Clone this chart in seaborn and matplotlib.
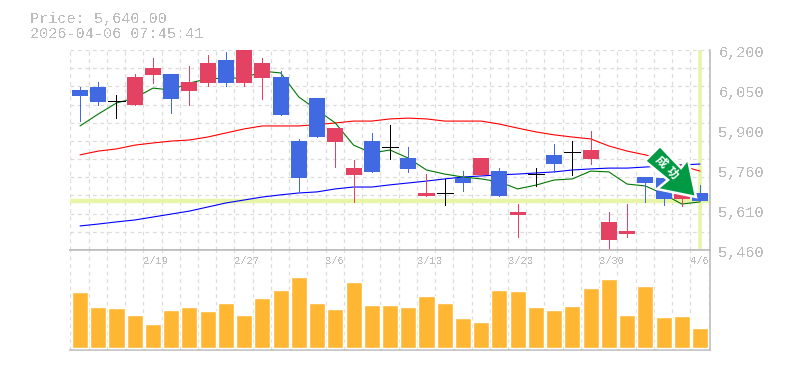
import numpy as np
import pandas as pd
import seaborn as sns
import matplotlib.pyplot as plt
from matplotlib.patches import Polygon

# daily prices
opens = [6052, 6063, 6010, 5997, 6108, 6111, 6048, 6078, 6163, 6078, 6096, 6100, 5863, 6022, 5860, 5738, 5863, 5840,
         5800, 5660, 5671, 5726, 5738, 5752, 5590, 5741, 5812, 5823, 5797, 5497, 5519, 5730, 5726, 5649, 5671]
highs = [6064, 6082, 6034, 6111, 6170, 6111, 6141, 6182, 6193, 6200, 6170, 6122, 5871, 6022, 5911, 5793, 5893, 5922,
         5841, 5741, 5723, 5752, 5800, 5763, 5630, 5763, 5852, 5863, 5900, 5601, 5630, 5730, 5726, 5667, 5700]
lows = [5937, 5997, 5948, 5997, 6078, 5967, 5997, 6067, 6067, 6067, 6019, 5960, 5678, 5878, 5767, 5638, 5749, 5797,
        5749, 5660, 5627, 5678, 5738, 5660, 5508, 5697, 5749, 5738, 5778, 5460, 5508, 5638, 5627, 5623, 5640]
closes = [6030, 6008, 6010, 6100, 6133, 6019, 6082, 6152, 6078, 6200, 6152, 5960, 5726, 5878, 5911, 5763, 5749, 5840,
          5760, 5671, 5671, 5708, 5800, 5660, 5601, 5741, 5778, 5823, 5830, 5564, 5530, 5708, 5649, 5667, 5640]
ma_short = [5919, 5963, 6004, 6022, 6059, 6052, 6078, 6093, 6096, 6096, 6122, 6115, 6026, 5978, 5930, 5848, 5819, 5830,
            5800, 5756, 5741, 5730, 5723, 5712, 5686, 5700, 5719, 5723, 5752, 5749, 5704, 5697, 5667, 5630, 5638]
ma_mid = [5812, 5826, 5834, 5848, 5856, 5863, 5867, 5878, 5893, 5908, 5919, 5919, 5919, 5924, 5930, 5937, 5937, 5945,
          5948, 5945, 5937, 5937, 5937, 5926, 5911, 5897, 5886, 5878, 5871, 5845, 5826, 5812, 5793, 5771, 5752]
ma_long = [5549, 5556, 5564, 5571, 5582, 5593, 5604, 5619, 5634, 5645, 5656, 5664, 5671, 5675, 5686, 5693, 5693, 5701,
           5708, 5715, 5723, 5730, 5734, 5738, 5741, 5745, 5749, 5756, 5760, 5763, 5763, 5767, 5771, 5775, 5778]
volumes = [56, 41, 40, 33, 24, 38, 41, 37, 45, 33, 50, 58, 71, 45, 39, 66, 43, 43,
           41, 52, 45, 30, 26, 58, 57, 41, 38, 42, 60, 69, 33, 62, 31, 32, 20]
price_ticks = [6200, 6050, 5900, 5760, 5610, 5460]
date_labels = ['2/19', '2/27', '3/6', '3/13', '3/23', '3/30', '4/6']
last_price = 5640

GRID = '#dcdcdc'
EDGE = '#bdbdbd'
TEXT = '#bcbcbc'
UP = '#e34262'
DOWN = '#4169e1'

W, H = 785, 370
days = np.arange(len(closes))
df = pd.DataFrame({'day': days, 'volume': volumes, 'short': ma_short, 'mid': ma_mid, 'long': ma_long})

sns.set_style('white')
plt.rcParams['font.family'] = ['Liberation Mono', 'DejaVu Sans Mono']

fig = plt.figure(figsize=(W / 100, H / 100), dpi=100)
ax = fig.add_axes([70 / W, 1 - 250 / H, 639.5 / W, 200 / H])
vax = fig.add_axes([70 / W, 1 - 349.5 / H, 639.5 / W, 99.5 / H])
xlim = (-0.55, 34.52)


def style_axes(a):
    a.set_xlim(*xlim)
    a.set_xticks(np.arange(-0.53, 35, 1))
    a.tick_params(length=0, labelbottom=False, labelleft=False)
    a.grid(True, axis='x', color=GRID, linestyle=(0, (3, 3)), linewidth=0.9)
    a.set_axisbelow(True)
    for side in ['top', 'left']:
        a.spines[side].set_visible(False)
    for side in ['right', 'bottom']:
        a.spines[side].set_color(EDGE)
        a.spines[side].set_linewidth(1.2)


# price panel
style_axes(ax)
ax.set_ylim(5460, 6200)
ax.set_yticks(np.linspace(5460, 6200, 12))
ax.grid(True, axis='y', color=GRID, linestyle=(0, (3, 3)), linewidth=0.9)
ax.axhline(last_price, color='#e6f5a8', linewidth=3.2, zorder=1.5)
ax.plot([days[-1], days[-1]], [5468, 6200], color='#e6f5a8', linewidth=2.6, zorder=1.5)

sns.lineplot(data=df, x='day', y='long', ax=ax, color='#0000ff', linewidth=0.8, zorder=2)
sns.lineplot(data=df, x='day', y='mid', ax=ax, color='#ff0000', linewidth=0.8, zorder=2)
sns.lineplot(data=df, x='day', y='short', ax=ax, color='#007700', linewidth=0.8, zorder=2)
ax.set_xlabel('')
ax.set_ylabel('')

for i, (o, h, l, c) in enumerate(zip(opens, highs, lows, closes)):
    col = UP if c > o else DOWN if c < o else 'black'
    ax.plot([i, i], [l, h], color=col, linewidth=0.72, solid_capstyle='butt', zorder=3, antialiased=False)
    if c == o:
        ax.plot([i - 0.44, i + 0.44], [c, c], color=col, linewidth=0.72, solid_capstyle='butt', zorder=3,
                antialiased=False)
    else:
        ax.bar(i, abs(c - o), bottom=min(o, c), width=0.88, color=col, linewidth=0, zorder=3)

# volume panel
style_axes(vax)
vax.set_yticks([])
sns.barplot(data=df, x='day', y='volume', ax=vax, color='#ffb733', width=0.88, saturation=1, native_scale=True, zorder=3)
vax.set_xlim(*xlim)
vax.set_ylim(-2, 97.5)
vax.set_xlabel('')
vax.set_ylabel('')
vax.spines['top'].set_visible(True)
vax.spines['top'].set_color(EDGE)
vax.spines['top'].set_linewidth(1.2)
for n, lab in enumerate(date_labels):
    vax.text(3.47 + 5 * n, 86, lab, color=TEXT, fontsize=7.6, ha='left', va='center', antialiased=False)

# price axis labels sit a little below their grid lines
for i, p in enumerate(price_ticks):
    fig.text(718.5 / W, 1 - (53.5 + 40 * i) / H, f'{p:,}', color=TEXT, fontsize=10.9, ha='left', va='center',
             antialiased=False)

fig.text(30 / W, 1 - 18.5 / H, f'Price: {last_price:,.2f}', color=TEXT, fontsize=10.9, va='center', antialiased=False)
fig.text(30 / W, 1 - 33.5 / H, '2026-04-06 07:45:41', color=TEXT, fontsize=10.9, va='center', antialiased=False)

# signal arrow, placed in pixels
arrow_px = [(660, 146), (681, 168), (688, 159), (696, 197), (657, 189), (668, 180), (645, 161)]
arrow_xy = [(x / W, 1 - y / H) for x, y in arrow_px]
fig.add_artist(Polygon(arrow_xy, closed=True, facecolor='#009944', edgecolor='white', linewidth=1.8,
                       transform=fig.transFigure, zorder=6))
fig.text(661 / W, 1 - 162 / H, '成', color='white', fontsize=8.5, fontweight='bold', rotation=-45, ha='center', va='center',
         family=['Noto Sans CJK JP', 'DejaVu Sans'], zorder=7)
fig.text(672 / W, 1 - 173 / H, '功', color='white', fontsize=8.5, fontweight='bold', rotation=-45, ha='center', va='center',
         family=['Noto Sans CJK JP', 'DejaVu Sans'], zorder=7)

fig.savefig('out.png', dpi=100)
plt.close(fig)
